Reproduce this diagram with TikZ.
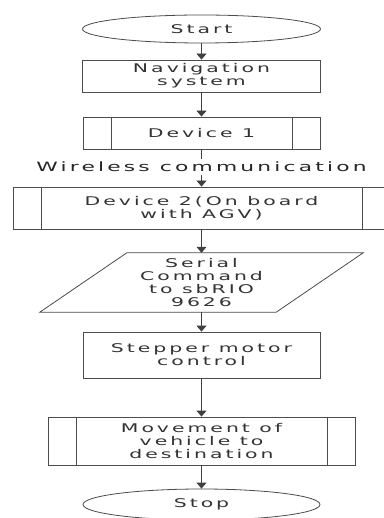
\documentclass[tikz,border=0pt]{standalone}
\usepackage{fontspec}
\newfontfamily\chartfont{DejaVu Sans}[FakeStretch=1.7,LetterSpace=25]
\usetikzlibrary{arrows.meta,shapes.geometric}
\tikzset{
  every node/.style={font=\chartfont\fontsize{12}{13.2}\selectfont, text=black!80},
  box/.style={draw=black!70, line width=0.8pt, rectangle, align=center, inner sep=0pt},
  term/.style={draw=black!70, line width=0.8pt, ellipse, inner sep=0pt},
  plain/.style={align=center, inner sep=0pt},
  conn/.style={draw=black!75, line width=0.8pt, -{Triangle[width=10pt,length=6pt]}},
  sidebar/.style={draw=black!70, line width=0.8pt},
  edgelabel/.style={fill=white, inner sep=3pt, text=black!85, font=\chartfont\fontsize{12.8}{14}\selectfont}
}
\begin{document}
\begin{tikzpicture}[x=1pt,y=1pt]
\useasboundingbox[fill=white] (0,0) rectangle (383,-518);
\node[term, minimum width=238pt, minimum height=28pt] (start) at (201.5,-29) {Start};
\node[box, minimum width=238pt, minimum height=32pt] (nav) at (201.5,-76) {Navigation\\system};
\node[box, minimum width=237pt, minimum height=32pt] (dev1) at (201.5,-133) {Device 1};
\node[box, minimum width=376pt, minimum height=42pt] (dev2) at (201.5,-208) {Device 2(On board\\with AGV)};
\node[plain, minimum width=236pt, minimum height=59pt] (par) at (201.5,-282.5) {Serial\\Command\\to sbRIO\\9626};
\node[box, minimum width=237pt, minimum height=46pt] (step) at (201.5,-355) {Stepper motor\\control};
\node[box, minimum width=307pt, minimum height=48pt] (move) at (201.5,-441) {Movement of\\vehicle to\\destination};
\node[term, minimum width=237pt, minimum height=31pt] (stop) at (201.5,-504.5) {Stop};
% parallelogram outline
\draw[sidebar] ([xshift=43.5pt]par.north west) -- ([xshift=43.5pt]par.north east)
  -- ([xshift=-43.5pt]par.south east) -- ([xshift=-43.5pt]par.south west) -- cycle;
% predefined process side bars
\draw[sidebar] ([xshift=29pt]dev1.north west) -- ([xshift=29pt]dev1.south west);
\draw[sidebar] ([xshift=-28pt]dev1.north east) -- ([xshift=-28pt]dev1.south east);
\draw[sidebar] ([xshift=28pt]dev2.north west) -- ([xshift=28pt]dev2.south west);
\draw[sidebar] ([xshift=-28pt]dev2.north east) -- ([xshift=-28pt]dev2.south east);
\draw[sidebar] ([xshift=29pt]move.north west) -- ([xshift=29pt]move.south west);
\draw[sidebar] ([xshift=-28pt]move.north east) -- ([xshift=-28pt]move.south east);
% connectors
\draw[conn] (start) -- (nav);
\draw[conn] (nav) -- (dev1);
\draw[conn] (dev1) -- (dev2) node[pos=0.47, edgelabel] (wl) {Wireless communication};
\draw[conn] (dev2) -- (par.north);
\draw[conn] (par.south) -- (step);
\draw[conn] (step) -- (move);
\draw[conn] (move) -- (stop);
\end{tikzpicture}
\end{document}
